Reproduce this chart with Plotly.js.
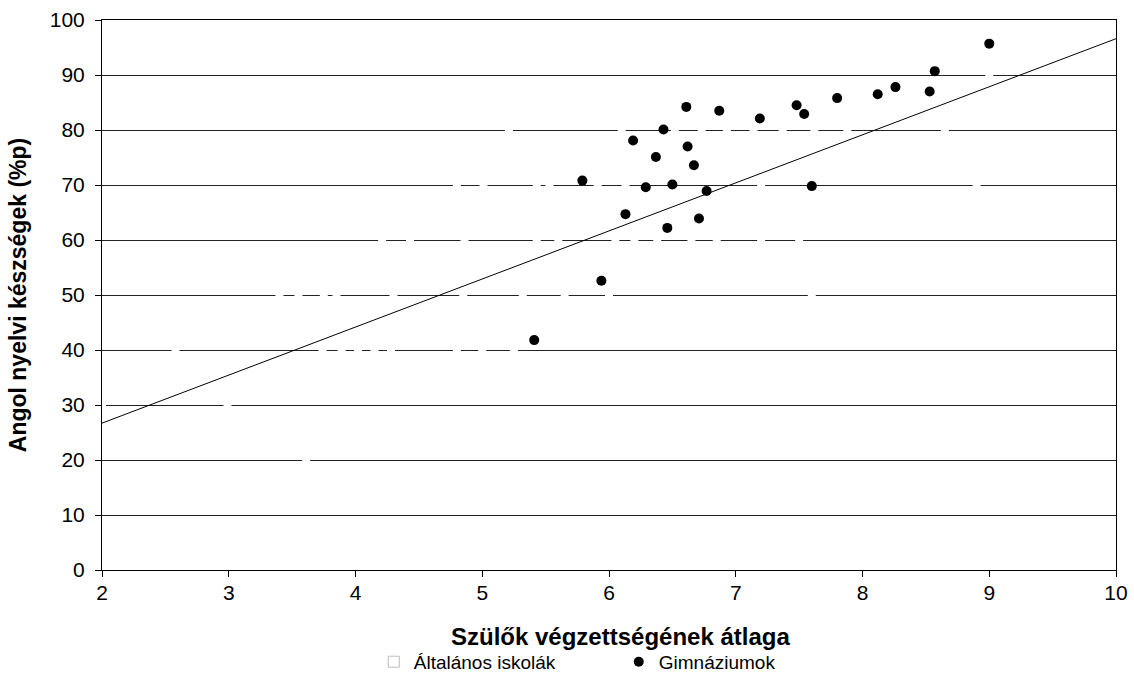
<!DOCTYPE html>
<html>
<head>
<meta charset="utf-8">
<script src="https://cdn.plot.ly/plotly-3.0.1.min.js"></script>
<style>html,body{margin:0;padding:0;background:#fff;}#chart{width:1134px;height:686px;}</style>
</head>
<body>
<div id="chart"></div>
<script>
// Gimnáziumok (black points)
const gimnX = [9.00, 8.57, 8.26, 8.12, 8.53, 7.80, 7.48, 7.54, 7.19, 6.87, 6.61, 6.43, 6.19, 6.62, 6.37, 6.67, 5.79, 6.29, 6.50, 6.77, 7.60, 6.13, 6.71, 6.46, 5.94, 5.41];
const gimnY = [95.7, 90.7, 87.8, 86.5, 87.0, 85.8, 84.5, 82.9, 82.1, 83.5, 84.2, 80.1, 78.1, 77.0, 75.1, 73.6, 70.8, 69.6, 70.1, 68.9, 69.8, 64.7, 63.9, 62.2, 52.6, 41.8];
// Általános iskolák (white markers, visible only where they break gridlines)
const altX = [9.00, 5.21, 6.10, 6.52, 6.73, 6.93, 7.14, 7.37, 7.62, 7.88, 8.65,
              4.80, 5.01, 5.43, 5.53, 5.91, 6.13, 7.20, 8.90,
              4.21, 4.43, 4.86, 5.43, 5.60, 6.05, 6.20, 6.38, 6.65, 6.85, 7.20, 7.50,
              3.40, 3.55, 3.75, 3.85, 4.30, 4.85, 5.32, 5.65, 6.00, 7.60,
              2.58, 3.74, 3.89, 4.02, 4.15, 4.28, 4.80, 5.00, 5.25,
              2.00, 2.99, 3.61];
const altY = [89.6, 80.0, 80.0, 80.0, 80.0, 80.0, 80.0, 80.0, 80.0, 80.0, 80.0,
              70.0, 70.0, 70.0, 70.0, 70.0, 70.0, 70.0, 70.0,
              60.0, 60.0, 60.0, 60.0, 60.0, 60.0, 60.0, 60.0, 60.0, 60.0, 60.0, 60.0,
              50.0, 50.0, 50.0, 50.0, 50.0, 50.0, 50.0, 50.0, 50.0, 50.0,
              40.0, 40.0, 40.0, 40.0, 40.0, 40.0, 40.0, 40.0, 40.0,
              30.0, 30.0, 20.0];
// Trend line endpoints
const trendX = [2, 10];
const trendY = [26.7, 96.6];
const xTicks = [2, 3, 4, 5, 6, 7, 8, 9, 10];
const yTicks = [0, 10, 20, 30, 40, 50, 60, 70, 80, 90, 100];
const xTitle = 'Szülők végzettségének átlaga';
const yTitle = 'Angol nyelvi készségek (%p)';

const FAM = 'Liberation Sans, Arial, sans-serif';
const tickFont = {family: FAM, size: 21, color: '#000'};
const titleFont = {family: FAM, size: 24, color: '#000'};
const yTitleFont = {family: FAM, size: 23, color: '#000'};
const legendFont = {family: FAM, size: 19, color: '#000'};

const traces = [
  {x: altX, y: altY, type: 'scatter', mode: 'markers', showlegend: false, hoverinfo: 'skip',
   marker: {symbol: 'square', size: 8, color: '#ffffff', line: {width: 0}}},
  {x: [null], y: [null], type: 'scatter', mode: 'markers', name: 'Általános iskolák',
   marker: {symbol: 'square', size: 11, color: '#ffffff', line: {width: 1, color: '#bdbdbd'}}},
  {x: trendX, y: trendY, type: 'scatter', mode: 'lines', showlegend: false,
   line: {color: '#000', width: 1}},
  {x: gimnX, y: gimnY, type: 'scatter', mode: 'markers', name: 'Gimnáziumok',
   marker: {symbol: 'circle', size: 10, color: '#000'}}
];

const layout = {
  width: 1134, height: 686,
  margin: {l: 102, r: 18, t: 20, b: 116, autoexpand: false},
  paper_bgcolor: '#fff', plot_bgcolor: '#fff',
  font: tickFont,
  showlegend: true,
  legend: {orientation: 'h', x: 0.268, xanchor: 'left', y: -0.167, yanchor: 'middle',
           font: legendFont, itemsizing: 'trace', traceorder: 'normal', entrywidth: 200},
  annotations: [
    {text: '<b>' + xTitle + '</b>', xref: 'paper', yref: 'paper', x: 0.511, y: -0.12,
     xanchor: 'center', yanchor: 'middle', showarrow: false, font: titleFont}
  ],
  xaxis: {
    range: [2, 10], tickvals: xTicks, ticktext: xTicks.map(String),
    showgrid: false, zeroline: false,
    showline: true, linecolor: '#000', linewidth: 1, mirror: true,
    ticks: 'outside', ticklen: 6, tickcolor: '#000', ticklabelstandoff: -2,
    tickfont: tickFont
  },
  yaxis: {
    range: [0, 100], tickvals: yTicks, ticktext: yTicks.map(String),
    showgrid: true, gridcolor: '#222', gridwidth: 1, zeroline: false,
    showline: true, linecolor: '#000', linewidth: 1, mirror: true,
    ticks: 'outside', ticklen: 6, tickcolor: '#000', ticklabelstandoff: 6,
    tickfont: tickFont,
    title: {text: '<b>' + yTitle + '</b>', font: yTitleFont, standoff: 16}
  }
};

Plotly.newPlot('chart', traces, layout, {displayModeBar: false, staticPlot: true});
</script>
</body>
</html>
